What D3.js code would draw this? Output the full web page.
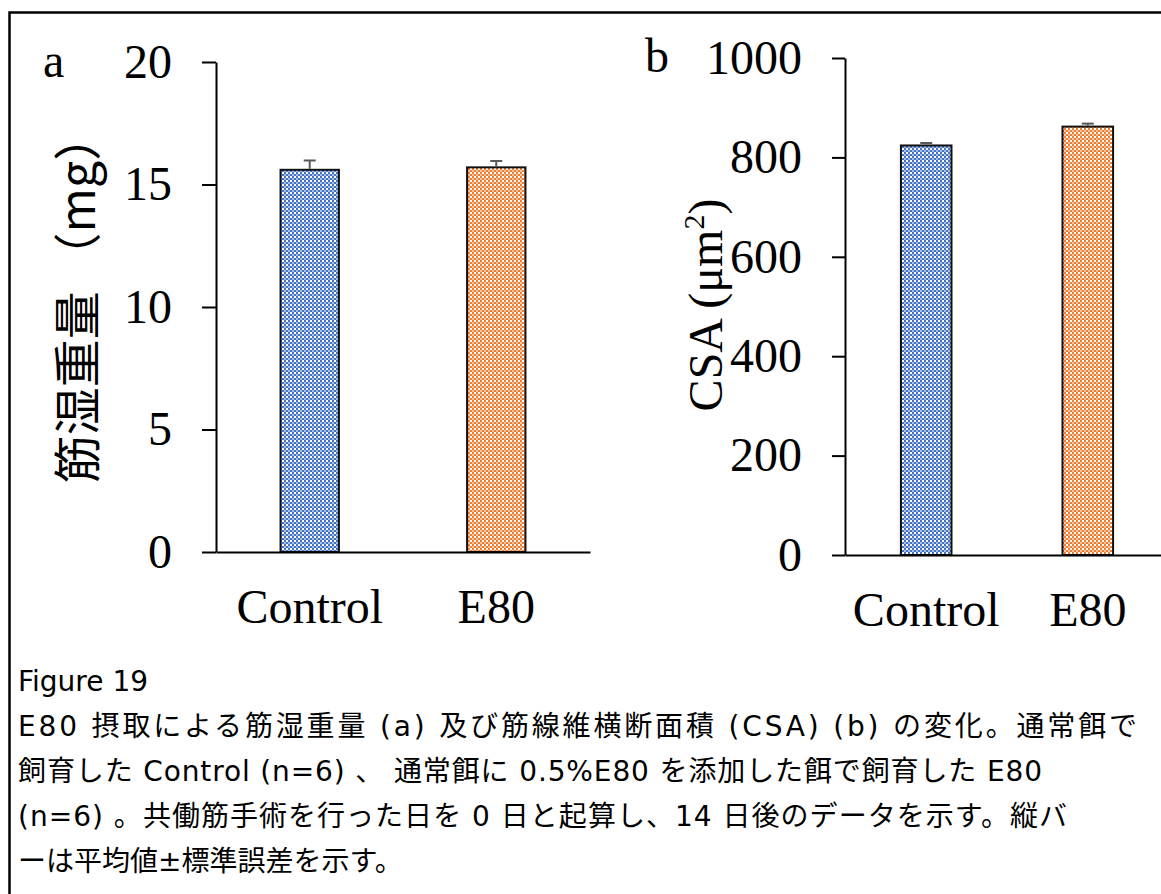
<!DOCTYPE html>
<html>
<head>
<meta charset="utf-8">
<script src="https://cdn.jsdelivr.net/npm/d3@7"></script>
<style>
  html, body { margin: 0; padding: 0; background: #fff; }
  svg { display: block; }
</style>
</head>
<body>
<svg id="fig" width="1161" height="894"></svg>
<script>
// ---- data ----
const categories = ["Control", "E80"];
const wetWeight = [15.6, 15.7];        // 筋湿重量 (mg)
const wetWeightErr = [0.38, 0.26];
const csaValues = [824, 862];          // CSA (μm²)
const csaErr = [5, 6];
const wetTicks = [0, 5, 10, 15, 20];
const csaTicks = [0, 200, 400, 600, 800, 1000];
const captionLines = [
  "Figure 19",
  "E80 摂取による筋湿重量 (a) 及び筋線維横断面積 (CSA) (b) の変化。通常餌で",
  "飼育した Control (n=6) 、 通常餌に 0.5%E80 を添加した餌で飼育した E80",
  "(n=6) 。共働筋手術を行った日を 0 日と起算し、14 日後のデータを示す。縦バ",
  "ーは平均値±標準誤差を示す。"
];

// ---- styles ----
const serif = "'Liberation Serif', 'Times New Roman', serif";
const captionFont = "'DejaVu Sans', 'Noto Sans CJK JP', sans-serif";
const fills = ["url(#checkBlue)", "url(#checkOrange)"];
// justified widths of the wrapped caption lines (null = natural width)
const captionWidths = [null, 1119, 1024, 1049, null];

const svg = d3.select("#fig");

// checkered fills for the bars
const defs = svg.append("defs");
function checker(id, dark, mid, light) {
  const p = defs.append("pattern")
    .attr("id", id).attr("width", 4).attr("height", 4)
    .attr("patternUnits", "userSpaceOnUse");
  p.append("rect").attr("width", 4).attr("height", 4).attr("fill", light);
  p.append("rect").attr("x", 0).attr("y", 0).attr("width", 2).attr("height", 2).attr("fill", dark);
  p.append("rect").attr("x", 2).attr("y", 2).attr("width", 2).attr("height", 2).attr("fill", dark);
  p.append("rect").attr("x", 0).attr("y", 2).attr("width", 2).attr("height", 2).attr("fill", mid);
}
checker("checkBlue", "#4472c4", "#a8c0e8", "#ffffff");
checker("checkOrange", "#ed7d31", "#f8c39e", "#ffffff");

// frame around the figure
svg.append("rect")
  .attr("x", 9.5).attr("y", 12.5)
  .attr("width", 1300).attr("height", 1000)
  .attr("fill", "none").attr("stroke", "#000").attr("stroke-width", 2.5);

function drawPanel(opt) {
  const y = d3.scaleLinear().domain(opt.domain).range([opt.bottom, opt.top]);
  const x = d3.scaleBand().domain(categories)
    .range([opt.left, opt.right]).paddingInner(0.687).paddingOuter(0.346);

  const g = svg.append("g");

  // bars
  g.selectAll("rect.bar").data(categories).join("rect")
    .attr("class", "bar")
    .attr("x", d => x(d))
    .attr("width", x.bandwidth())
    .attr("y", (d, i) => y(opt.values[i]))
    .attr("height", (d, i) => y(0) - y(opt.values[i]))
    .attr("fill", (d, i) => fills[i])
    .attr("stroke", "#111").attr("stroke-width", 2);

  // error bars (upper)
  const eb = g.selectAll("g.err").data(categories).join("g").attr("class", "err")
    .attr("stroke", "#595959").attr("stroke-width", 2);
  eb.append("line")
    .attr("x1", d => x(d) + x.bandwidth() / 2).attr("x2", d => x(d) + x.bandwidth() / 2)
    .attr("y1", (d, i) => y(opt.values[i]) - 1)
    .attr("y2", (d, i) => y(opt.values[i] + opt.errors[i]));
  eb.append("line")
    .attr("x1", d => x(d) + x.bandwidth() / 2 - 6).attr("x2", d => x(d) + x.bandwidth() / 2 + 6)
    .attr("y1", (d, i) => y(opt.values[i] + opt.errors[i]))
    .attr("y2", (d, i) => y(opt.values[i] + opt.errors[i]));

  // x axis
  const xa = g.append("g").attr("transform", `translate(0,${opt.bottom})`)
    .call(d3.axisBottom(x).tickSize(0).tickPadding(37).tickSizeOuter(0));
  xa.select(".domain").attr("stroke", "#000").attr("stroke-width", 2);
  xa.selectAll("text").attr("font-family", serif).attr("font-size", 48).attr("fill", "#000");

  // y axis
  const ya = g.append("g").attr("transform", `translate(${opt.left},0)`)
    .call(d3.axisLeft(y).tickValues(opt.ticks).tickFormat(d3.format("d"))
      .tickSize(opt.tickLen).tickPadding(30).tickSizeOuter(0));
  ya.select(".domain").attr("stroke", "#000").attr("stroke-width", 2);
  ya.selectAll(".tick line").attr("stroke", "#000").attr("stroke-width", 2);
  ya.selectAll("text").attr("font-family", serif).attr("font-size", 48).attr("fill", "#000");

  // panel letter
  g.append("text").attr("x", opt.letterX).attr("y", opt.letterY)
    .attr("font-family", serif).attr("font-size", 48).text(opt.letter);

  return g;
}

const ga = drawPanel({
  domain: [0, 20], ticks: wetTicks, values: wetWeight, errors: wetWeightErr,
  left: 216, right: 590, top: 62, bottom: 552, tickLen: 14,
  letter: "a", letterX: 43, letterY: 77
});
ga.append("text")
  .attr("transform", "translate(95,298) rotate(-90)")
  .attr("text-anchor", "middle")
  .attr("font-family", "'Noto Sans CJK JP', sans-serif")
  .attr("font-size", 48)
  .text("筋湿重量 （mg）");

const gb = drawPanel({
  domain: [0, 1000], ticks: csaTicks, values: csaValues, errors: csaErr,
  left: 845, right: 1169, top: 58, bottom: 555, tickLen: 13,
  letter: "b", letterX: 645, letterY: 72
});
const tb = gb.append("text")
  .attr("transform", "translate(722,305) rotate(-90)")
  .attr("text-anchor", "middle")
  .attr("font-family", serif)
  .attr("font-size", 48);
tb.append("tspan").text("CSA (μm");
tb.append("tspan").attr("font-size", 30).attr("dy", -18).text("2");
tb.append("tspan").attr("dy", 18).text(")");

// caption
svg.append("g").selectAll("text").data(captionLines).join("text")
  .attr("x", 18)
  .attr("y", (d, i) => 691 + i * 45)
  .attr("font-family", captionFont)
  .attr("font-size", 28)
  .attr("fill", "#000")
  .each(function (d, i) {
    if (captionWidths[i]) {
      d3.select(this).attr("textLength", captionWidths[i]).attr("lengthAdjust", "spacing");
    }
  })
  .text(d => d);
</script>
</body>
</html>
